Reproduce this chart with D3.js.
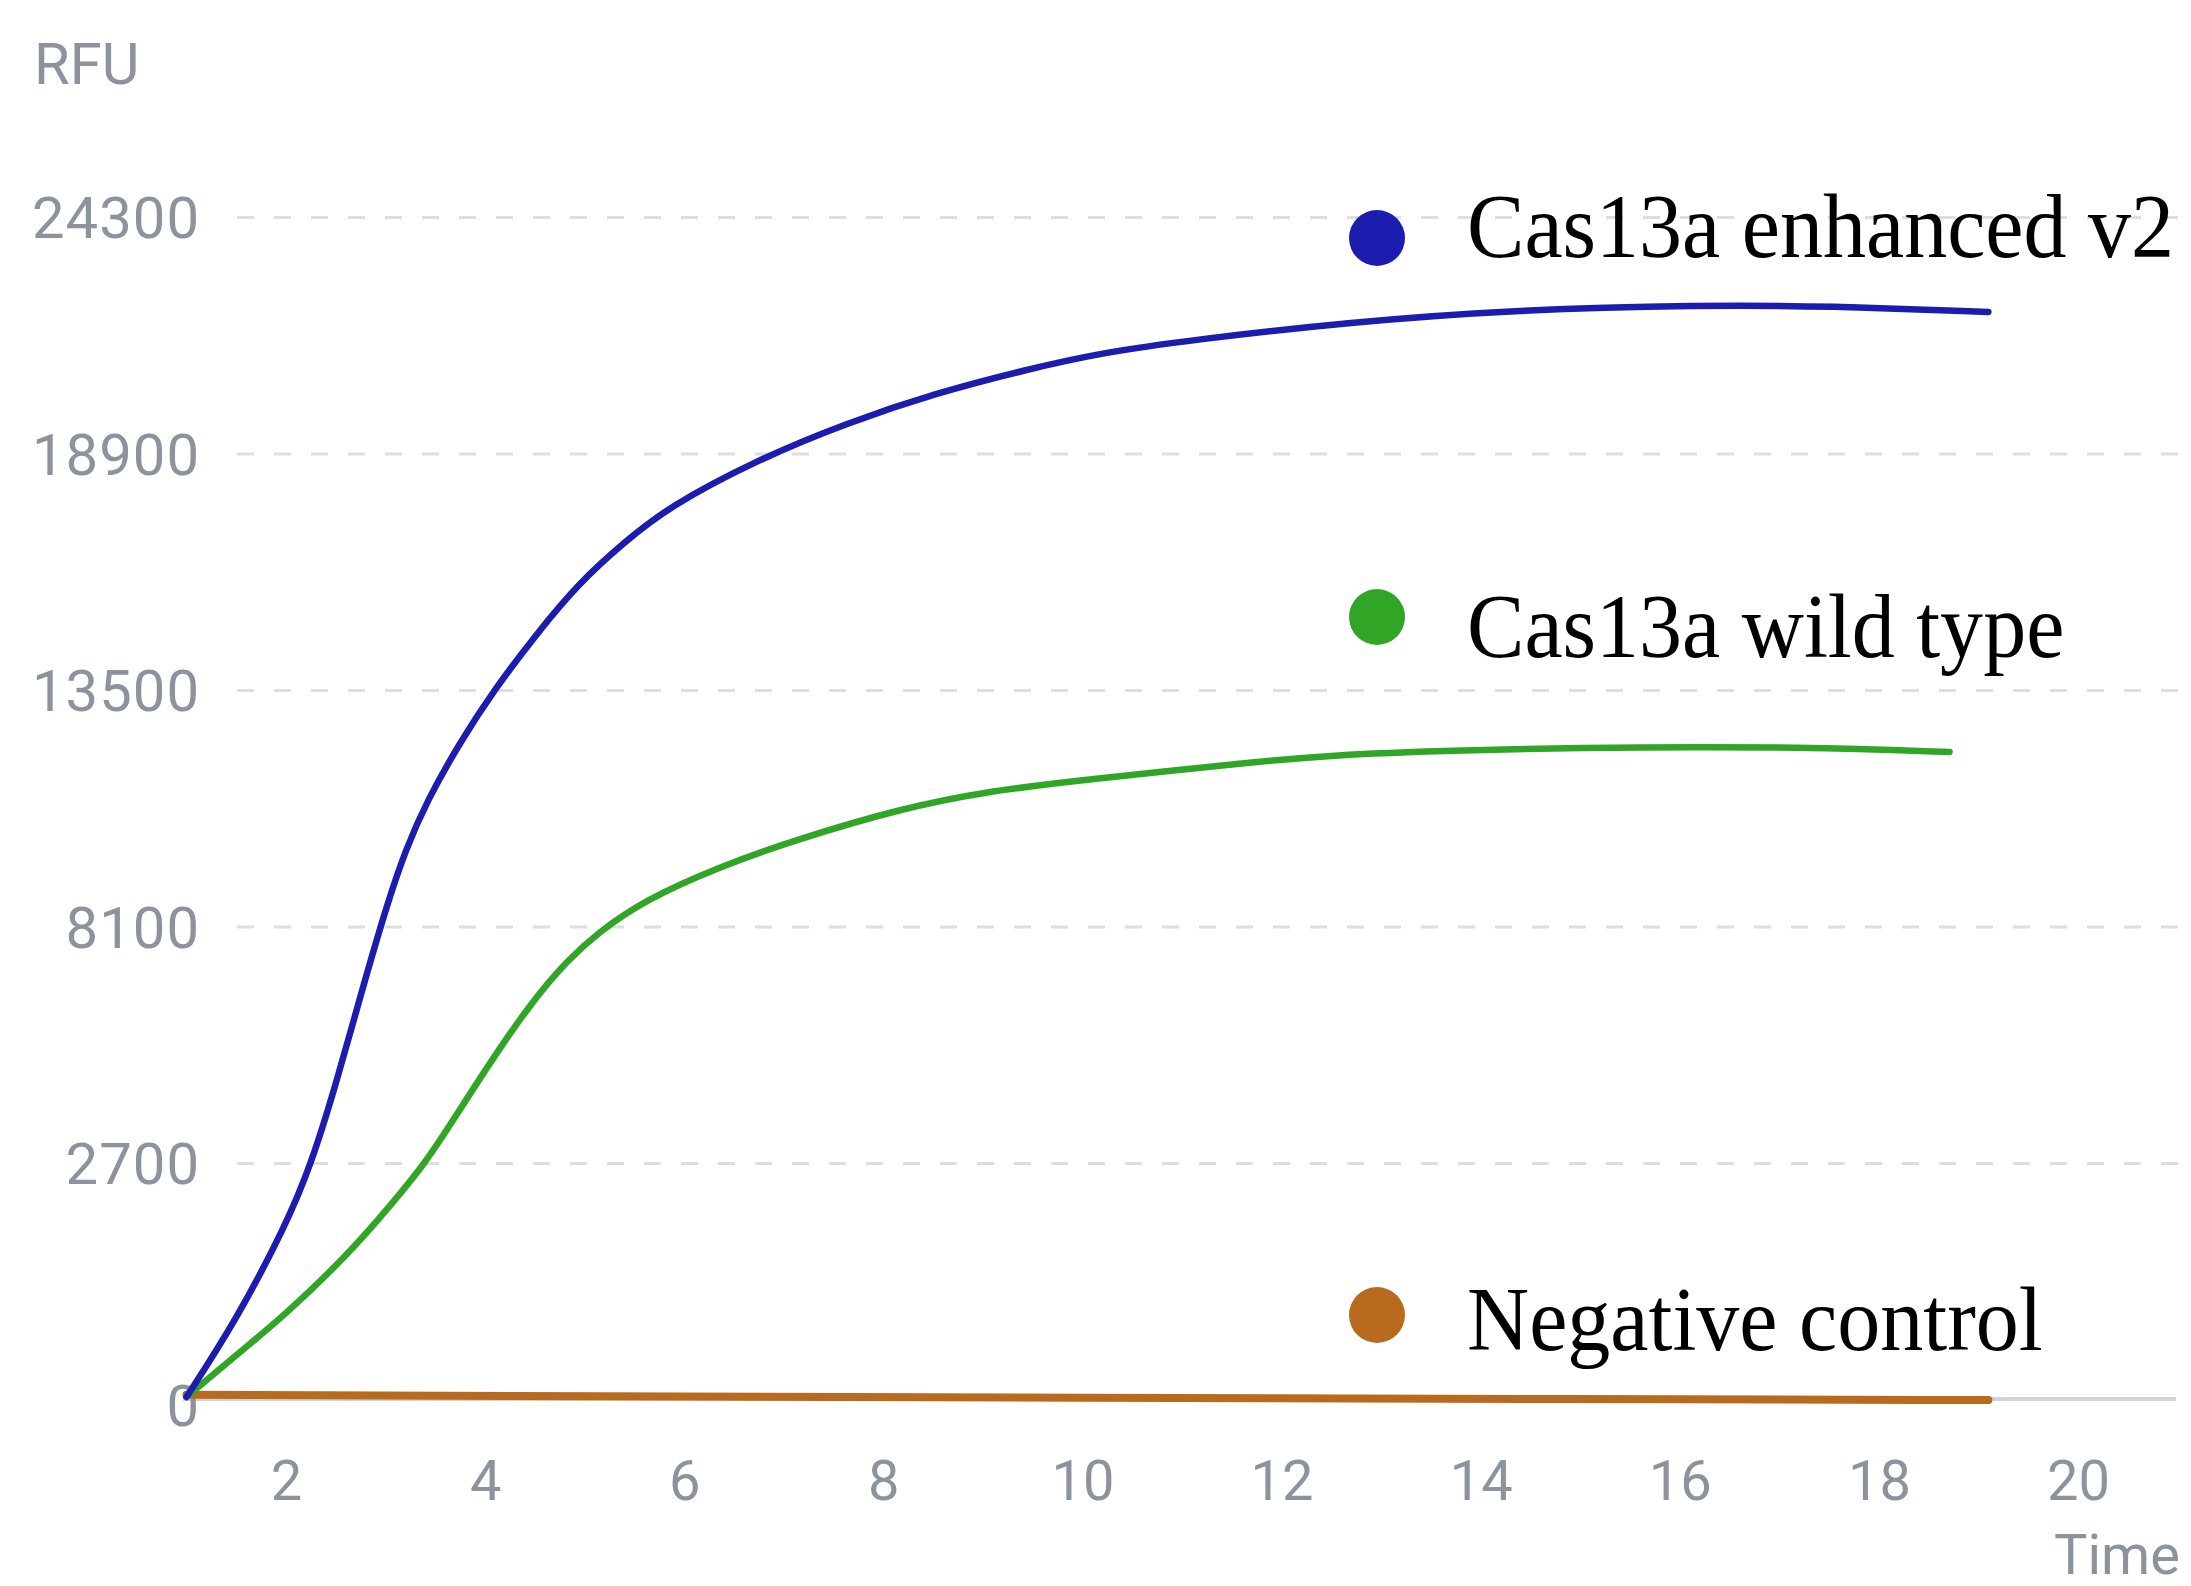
<!DOCTYPE html>
<html>
<head>
<meta charset="utf-8">
<script src="https://cdn.jsdelivr.net/npm/d3@7"></script>
<style>
  html, body { margin: 0; padding: 0; background: #ffffff; }
  #chart { width: 2191px; height: 1586px; overflow: hidden; }
</style>
</head>
<body>
<div id="chart"></div>
<script>
// Tick labels
const yTicks = [0, 2700, 8100, 13500, 18900, 24300];
const xTicks = [2, 4, 6, 8, 10, 12, 14, 16, 18, 20];

// Series names and colours
const seriesNames = ["Cas13a enhanced v2", "Cas13a wild type", "Negative control"];
const seriesColors = ["#1c1cae", "#30a526", "#b86a1f"];

// Time points and RFU values
const enhancedTime = [1.0, 1.5, 2.0, 2.25, 2.5, 2.75, 3.0, 3.2, 3.42, 3.75, 4.09, 4.5, 4.94, 5.4, 5.84, 6.73, 7.63, 8.53, 9.42, 10.18, 11.09, 12.7, 14.29, 16.22, 17.5, 19.1];
const enhancedRFU = [0, 888, 1985, 2677, 4481, 6536, 8500, 9850, 10988, 12313, 13500, 14733, 15943, 16879, 17678, 18752, 19596, 20281, 20807, 21195, 21492, 21903, 22176, 22290, 22267, 22131];

const wildTime = [1.0, 1.5, 1.97, 2.64, 3.07, 3.4, 3.7, 4.0, 4.45, 4.83, 5.13, 5.6, 6.37, 7.14, 8.2, 9.0, 9.99, 11.73, 12.69, 15.04, 17.3, 18.71];
const wildRFU = [0, 485, 923, 1662, 2238, 2700, 3750, 4823, 6330, 7335, 7952, 8705, 9481, 10098, 10806, 11171, 11445, 11856, 12061, 12199, 12199, 12085];

const negTime = [1.0, 5, 10, 15, 19.1];
const negRFU = [25, 10, -10, -25, -35];

function drawChart(container) {
    const width = 2191;
    const height = 1586;

    d3.select(container).html("");

    const svg = d3.select(container)
        .append("svg")
        .attr("width", width)
        .attr("height", height);

    // x: time, y: RFU (ticks are evenly spaced in the original, so piecewise)
    const x = d3.scaleLinear()
        .domain([2, 20])
        .range([286, 2078]);

    const y = d3.scaleLinear()
        .domain([0, 2700, 24300])
        .range([1397, 1163, 217]);

    const labelFont = "Roboto, 'Open Sans', sans-serif";

    // dashed grid lines
    const grid = svg.append("g")
        .attr("transform", "translate(237,0)")
        .call(d3.axisLeft(y)
            .tickValues(yTicks.filter(d => d > 0))
            .tickSize(-(width - 237))
            .tickFormat(""));
    grid.select(".domain").remove();
    grid.selectAll(".tick line")
        .attr("stroke", "#dcdee2")
        .attr("stroke-width", 3)
        .attr("stroke-dasharray", "17 20");

    // baseline
    svg.append("line")
        .attr("x1", 183)
        .attr("x2", 2176)
        .attr("y1", y(0) + 2)
        .attr("y2", y(0) + 2)
        .attr("stroke", "#d0d3d8")
        .attr("stroke-width", 4);

    // y axis labels
    const yAxis = svg.append("g")
        .attr("transform", "translate(200,0)")
        .call(d3.axisLeft(y)
            .tickValues(yTicks)
            .tickSize(0)
            .tickPadding(0)
            .tickFormat(d => String(d)));
    yAxis.select(".domain").remove();
    yAxis.selectAll("text")
        .attr("fill", "#8d939c")
        .attr("dy", "0.36em")
        .style("font-family", labelFont)
        .style("font-size", "58px")
        .style("letter-spacing", "1px");
    yAxis.selectAll(".tick")
        .filter(d => d === 0)
        .attr("transform", `translate(0,${y(0) + 8})`);

    // x axis labels
    const xAxis = svg.append("g")
        .attr("transform", "translate(0,1460)")
        .call(d3.axisBottom(x)
            .tickValues(xTicks)
            .tickSize(0)
            .tickPadding(0));
    xAxis.select(".domain").remove();
    xAxis.selectAll("text")
        .attr("fill", "#8d939c")
        .attr("dy", "0.71em")
        .style("font-family", labelFont)
        .style("font-size", "56px");

    // axis titles
    svg.append("text")
        .attr("x", 34)
        .attr("y", 84)
        .attr("fill", "#8d939c")
        .style("font-family", labelFont)
        .style("font-size", "58px")
        .text("RFU");

    svg.append("text")
        .attr("x", 2054)
        .attr("y", 1574)
        .attr("fill", "#8d939c")
        .style("font-family", labelFont)
        .style("font-size", "56px")
        .text("Time");

    // lines (basis keeps the read-off points from showing corners)
    const line = d3.line()
        .x(d => x(d.t))
        .y(d => y(d.v))
        .curve(d3.curveBasis);

    const series = [
        { name: seriesNames[2], color: seriesColors[2], width: 8, data: negTime.map((t, i) => ({ t, v: negRFU[i] })) },
        { name: seriesNames[1], color: seriesColors[1], width: 6.5, data: wildTime.map((t, i) => ({ t, v: wildRFU[i] })) },
        { name: seriesNames[0], color: seriesColors[0], width: 6.5, data: enhancedTime.map((t, i) => ({ t, v: enhancedRFU[i] })) }
    ];

    svg.selectAll(".series")
        .data(series)
        .enter()
        .append("path")
        .attr("class", "series")
        .attr("d", d => line(d.data))
        .attr("fill", "none")
        .attr("stroke", d => d.color)
        .attr("stroke-width", d => d.width)
        .attr("stroke-linecap", "round")
        .attr("stroke-linejoin", "round");

    // legend: dots with serif labels placed beside each series
    const legendRows = [
        { name: seriesNames[0], color: seriesColors[0], cy: 238, base: 257 },
        { name: seriesNames[1], color: seriesColors[1], cy: 617, base: 657 },
        { name: seriesNames[2], color: seriesColors[2], cy: 1315, base: 1350 }
    ];

    const legend = svg.selectAll(".legend")
        .data(legendRows)
        .enter()
        .append("g")
        .attr("class", "legend");

    legend.append("circle")
        .attr("cx", 1377)
        .attr("cy", d => d.cy)
        .attr("r", 28)
        .attr("fill", d => d.color);

    legend.append("text")
        .attr("transform", d => `translate(1467,${d.base}) scale(0.956,1)`)
        .attr("fill", "#000000")
        .style("font-family", "'Liberation Serif', 'Times New Roman', serif")
        .style("font-size", "90px")
        .text(d => d.name);
}

drawChart("#chart");
</script>
</body>
</html>
